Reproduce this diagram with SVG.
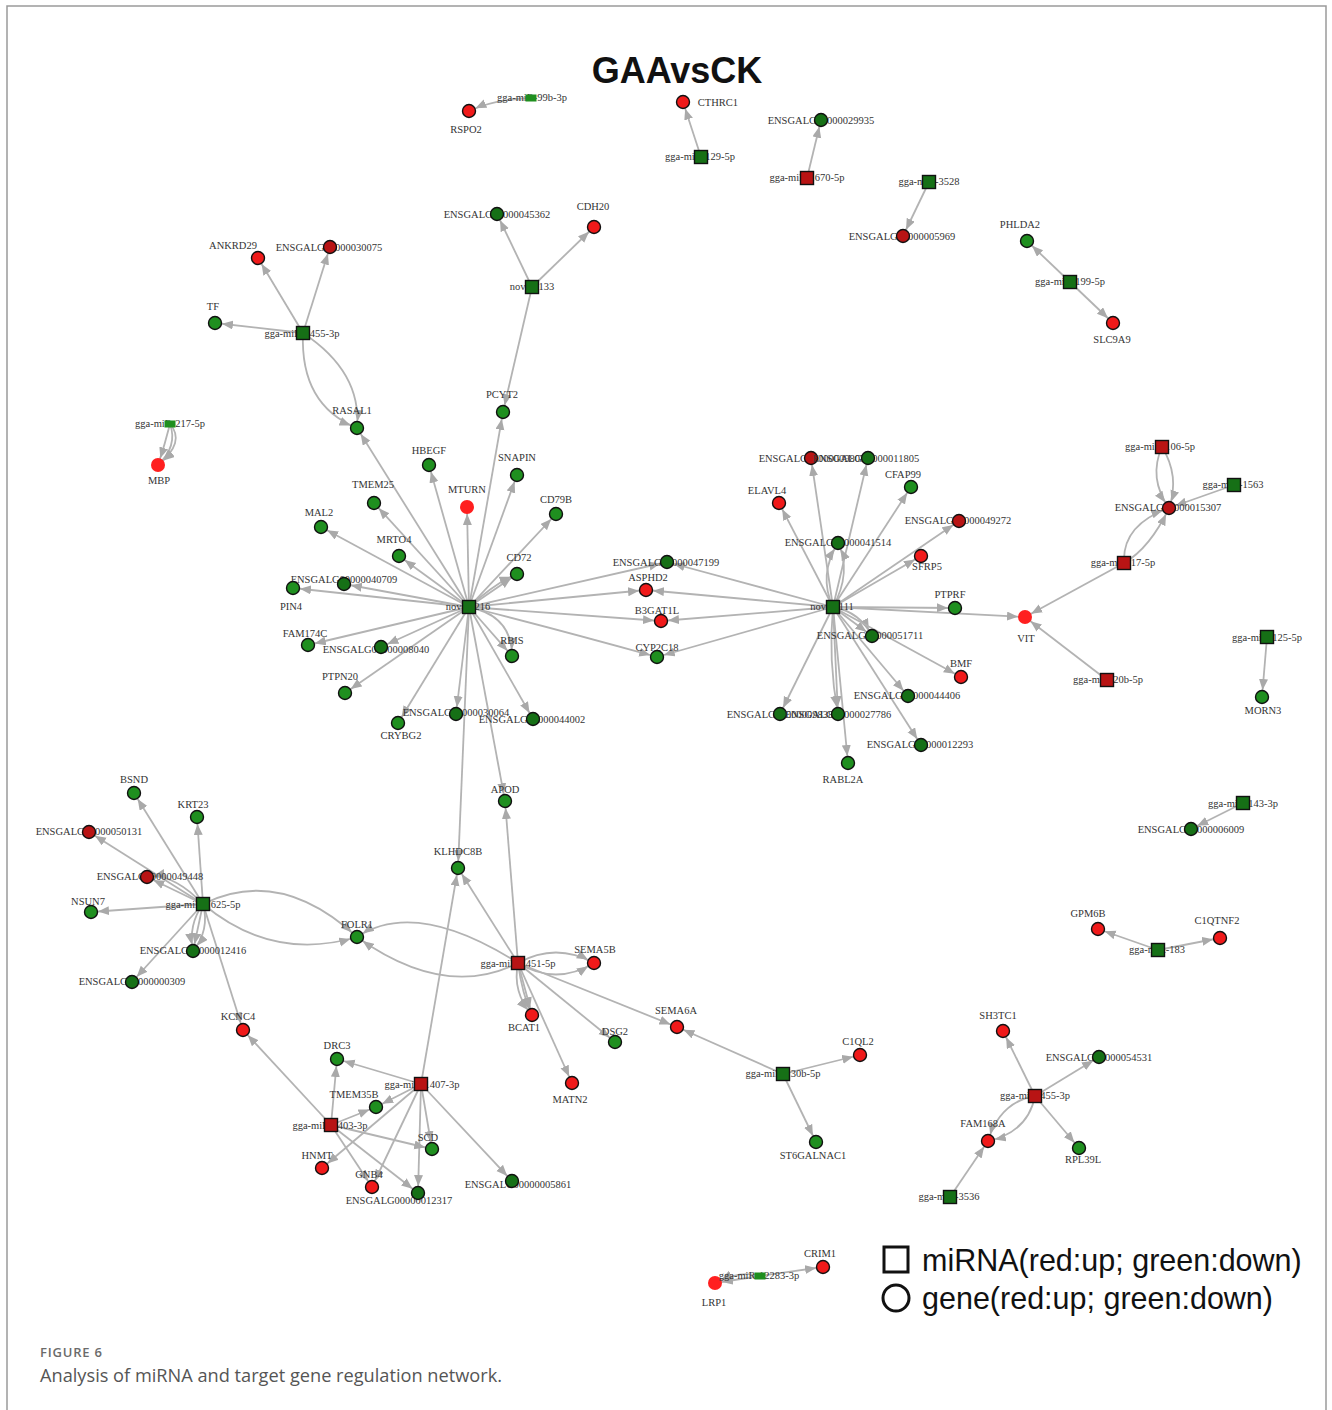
<svg xmlns="http://www.w3.org/2000/svg" width="1332" height="1410" viewBox="0 0 1332 1410">
<defs>
<marker id="ah" markerUnits="userSpaceOnUse" markerWidth="20" markerHeight="10" refX="18" refY="4.5" orient="auto"><path d="M0,0 L11,4.5 L0,9 z" fill="#a9a9a9"/></marker>
<style>
.e{fill:none;stroke:#b3b3b3;stroke-width:1.8;marker-end:url(#ah)}
.g{fill:#1f8f1f;stroke:#111;stroke-width:1.4}
.G{fill:#167016;stroke:#111;stroke-width:1.4}
.r{fill:#f01a1a;stroke:#111;stroke-width:1.4}
.R{fill:#b81414;stroke:#111;stroke-width:1.4}
.n{fill:#ff1f1f;stroke:none}
.s{fill:#1f8f1f;stroke:none}
.t{font-family:"Liberation Serif","Times New Roman",serif;font-size:10.5px;fill:#333;text-anchor:middle}
.lg{font-family:"Liberation Sans",Arial,sans-serif;font-size:30.5px;fill:#111}
</style>
</defs>
<rect width="1332" height="1410" fill="#fff"/>
<path d="M7,1410 V6 H1326 V1410" fill="none" stroke="#9a9a9a" stroke-width="1.5"/>
<text x="677" y="83" font-family="Liberation Sans,Arial,sans-serif" font-size="36" font-weight="bold" text-anchor="middle" fill="#111">GAAvsCK</text>

<g id="edges">
<path class="e" d="M531,98 Q496,99 469,111"/>
<path class="e" d="M701,157 L683,102"/>
<path class="e" d="M807,178 L821,120"/>
<path class="e" d="M929,182 L903,236"/>
<path class="e" d="M1070,282 L1027,241"/>
<path class="e" d="M1070,282 L1113,323"/>
<path class="e" d="M532,287 L497,214"/>
<path class="e" d="M532,287 L594,227"/>
<path class="e" d="M532,287 L503,412"/>
<path class="e" d="M303,333 L258,258"/>
<path class="e" d="M303,333 L330,247"/>
<path class="e" d="M303,333 L215,323"/>
<path class="e" d="M303,333 Q300,405 357,428"/>
<path class="e" d="M303,333 Q362,372 357,428"/>
<path class="e" d="M170,424 Q165,444 158,465"/>
<path class="e" d="M170,424 Q178,446 158,465"/>
<path class="e" d="M170,424 Q186,442 158,465"/>
<path class="e" d="M469,607 L357,428"/>
<path class="e" d="M469,607 L429,465"/>
<path class="e" d="M469,607 L467,507"/>
<path class="e" d="M469,607 L503,412"/>
<path class="e" d="M469,607 L517,475"/>
<path class="e" d="M469,607 L556,514"/>
<path class="e" d="M469,607 L517,574"/>
<path class="e" d="M469,607 Q495,583 517,574"/>
<path class="e" d="M469,607 L374,503"/>
<path class="e" d="M469,607 L321,527"/>
<path class="e" d="M469,607 L399,556"/>
<path class="e" d="M469,607 L344,584"/>
<path class="e" d="M469,607 L293,588"/>
<path class="e" d="M469,607 L308,645"/>
<path class="e" d="M469,607 L381,647"/>
<path class="e" d="M469,607 L345,693"/>
<path class="e" d="M469,607 L398,723"/>
<path class="e" d="M469,607 L456,714"/>
<path class="e" d="M469,607 L533,719"/>
<path class="e" d="M469,607 L512,656"/>
<path class="e" d="M469,607 Q512,616 512,656"/>
<path class="e" d="M469,607 L458,868"/>
<path class="e" d="M469,607 L505,801"/>
<path class="e" d="M469,607 L667,562"/>
<path class="e" d="M469,607 L646,590"/>
<path class="e" d="M469,607 L661,621"/>
<path class="e" d="M469,607 Q560,630 657,657"/>
<path class="e" d="M833,607 L667,562"/>
<path class="e" d="M833,607 L646,590"/>
<path class="e" d="M833,607 L661,621"/>
<path class="e" d="M833,607 L657,657"/>
<path class="e" d="M833,607 L811,458"/>
<path class="e" d="M833,607 L868,458"/>
<path class="e" d="M833,607 L779,503"/>
<path class="e" d="M833,607 L911,487"/>
<path class="e" d="M833,607 L959,521"/>
<path class="e" d="M833,607 Q818,575 838,543"/>
<path class="e" d="M833,607 Q852,572 838,543"/>
<path class="e" d="M833,607 L921,556"/>
<path class="e" d="M833,607 L955,608"/>
<path class="e" d="M833,607 L1025,617"/>
<path class="e" d="M833,607 L872,636"/>
<path class="e" d="M833,607 Q860,612 872,636"/>
<path class="e" d="M833,607 L961,677"/>
<path class="e" d="M833,607 L908,696"/>
<path class="e" d="M833,607 L921,745"/>
<path class="e" d="M833,607 L848,763"/>
<path class="e" d="M833,607 L780,714"/>
<path class="e" d="M833,607 L838,714"/>
<path class="e" d="M833,607 Q828,660 838,714"/>
<path class="e" d="M1162,447 Q1148,478 1169,508"/>
<path class="e" d="M1162,447 Q1180,476 1169,508"/>
<path class="e" d="M1234,485 L1169,508"/>
<path class="e" d="M1124,563 Q1122,525 1169,508"/>
<path class="e" d="M1124,563 Q1150,548 1169,508"/>
<path class="e" d="M1124,563 L1025,617"/>
<path class="e" d="M1107,680 L1025,617"/>
<path class="e" d="M1267,637 L1262,697"/>
<path class="e" d="M203,904 L134,793"/>
<path class="e" d="M203,904 L197,817"/>
<path class="e" d="M203,904 L89,832"/>
<path class="e" d="M203,904 L147,877"/>
<path class="e" d="M203,904 Q172,872 147,877"/>
<path class="e" d="M203,904 L91,912"/>
<path class="e" d="M203,904 L193,951"/>
<path class="e" d="M203,904 Q188,925 193,951"/>
<path class="e" d="M203,904 Q210,930 193,951"/>
<path class="e" d="M203,904 L132,982"/>
<path class="e" d="M203,904 L243,1030"/>
<path class="e" d="M203,904 Q280,866 357,937"/>
<path class="e" d="M203,904 Q272,962 357,937"/>
<path class="e" d="M518,963 Q416,898 357,937"/>
<path class="e" d="M518,963 Q445,1000 357,937"/>
<path class="e" d="M518,963 L458,868"/>
<path class="e" d="M518,963 L505,801"/>
<path class="e" d="M518,963 Q556,942 594,963"/>
<path class="e" d="M518,963 Q556,986 594,963"/>
<path class="e" d="M518,963 Q512,992 532,1015"/>
<path class="e" d="M518,963 Q522,994 532,1015"/>
<path class="e" d="M518,963 L532,1015"/>
<path class="e" d="M518,963 L615,1042"/>
<path class="e" d="M518,963 L572,1083"/>
<path class="e" d="M518,963 L677,1027"/>
<path class="e" d="M421,1084 L337,1059"/>
<path class="e" d="M421,1084 L376,1107"/>
<path class="e" d="M421,1084 L322,1168"/>
<path class="e" d="M421,1084 L372,1187"/>
<path class="e" d="M421,1084 L432,1149"/>
<path class="e" d="M421,1084 L418,1193"/>
<path class="e" d="M421,1084 L512,1181"/>
<path class="e" d="M421,1084 L458,868"/>
<path class="e" d="M331,1125 L243,1030"/>
<path class="e" d="M331,1125 L337,1059"/>
<path class="e" d="M331,1125 L376,1107"/>
<path class="e" d="M331,1125 L432,1149"/>
<path class="e" d="M331,1125 L418,1193"/>
<path class="e" d="M331,1125 L372,1187"/>
<path class="e" d="M783,1074 L677,1027"/>
<path class="e" d="M783,1074 L860,1055"/>
<path class="e" d="M783,1074 L816,1142"/>
<path class="e" d="M1243,803 L1191,829"/>
<path class="e" d="M1158,950 L1098,929"/>
<path class="e" d="M1158,950 L1220,938"/>
<path class="e" d="M1035,1096 L1003,1031"/>
<path class="e" d="M1035,1096 L1099,1057"/>
<path class="e" d="M1035,1096 Q1000,1102 988,1141"/>
<path class="e" d="M1035,1096 Q1028,1132 988,1141"/>
<path class="e" d="M1035,1096 L1079,1148"/>
<path class="e" d="M950,1197 L988,1141"/>
<path class="e" d="M760,1276 Q740,1270 715,1283"/>
<path class="e" d="M760,1276 L715,1283"/>
<path class="e" d="M760,1276 L823,1267"/>
</g>

<g id="RSPO2"><text class="t" x="466" y="133">RSPO2</text><circle class="r" cx="469" cy="111" r="6.5"/></g>
<g id="CTHRC1"><text class="t" x="718" y="106">CTHRC1</text><circle class="r" cx="683" cy="102" r="6.5"/></g>
<g id="E29935"><text class="t" x="821" y="124">ENSGALG00000029935</text><circle class="G" cx="821" cy="120" r="6.5"/></g>
<g id="E05969"><text class="t" x="902" y="240">ENSGALG00000005969</text><circle class="R" cx="903" cy="236" r="6.5"/></g>
<g id="PHLDA2"><text class="t" x="1020" y="228">PHLDA2</text><circle class="g" cx="1027" cy="241" r="6.5"/></g>
<g id="SLC9A9"><text class="t" x="1112" y="343">SLC9A9</text><circle class="r" cx="1113" cy="323" r="6.5"/></g>
<g id="E45362"><text class="t" x="497" y="218">ENSGALG00000045362</text><circle class="G" cx="497" cy="214" r="6.5"/></g>
<g id="CDH20"><text class="t" x="593" y="210">CDH20</text><circle class="r" cx="594" cy="227" r="6.5"/></g>
<g id="ANKRD29"><text class="t" x="233" y="249">ANKRD29</text><circle class="r" cx="258" cy="258" r="6.5"/></g>
<g id="E30075"><text class="t" x="329" y="251">ENSGALG00000030075</text><circle class="R" cx="330" cy="247" r="6.5"/></g>
<g id="TF"><text class="t" x="213" y="310">TF</text><circle class="g" cx="215" cy="323" r="6.5"/></g>
<g id="RASAL1"><text class="t" x="352" y="414">RASAL1</text><circle class="g" cx="357" cy="428" r="6.5"/></g>
<g id="MBP"><text class="t" x="159" y="484">MBP</text><circle class="n" cx="158" cy="465" r="7"/></g>
<g id="PCYT2"><text class="t" x="502" y="398">PCYT2</text><circle class="g" cx="503" cy="412" r="6.5"/></g>
<g id="HBEGF"><text class="t" x="429" y="454">HBEGF</text><circle class="g" cx="429" cy="465" r="6.5"/></g>
<g id="SNAPIN"><text class="t" x="517" y="461">SNAPIN</text><circle class="g" cx="517" cy="475" r="6.5"/></g>
<g id="TMEM25"><text class="t" x="373" y="488">TMEM25</text><circle class="g" cx="374" cy="503" r="6.5"/></g>
<g id="MTURN"><text class="t" x="467" y="493">MTURN</text><circle class="n" cx="467" cy="507" r="7"/></g>
<g id="CD79B"><text class="t" x="556" y="503">CD79B</text><circle class="g" cx="556" cy="514" r="6.5"/></g>
<g id="MAL2"><text class="t" x="319" y="516">MAL2</text><circle class="g" cx="321" cy="527" r="6.5"/></g>
<g id="MRTO4"><text class="t" x="394" y="543">MRTO4</text><circle class="g" cx="399" cy="556" r="6.5"/></g>
<g id="CD72"><text class="t" x="519" y="561">CD72</text><circle class="g" cx="517" cy="574" r="6.5"/></g>
<g id="E40709"><text class="t" x="344" y="583">ENSGALG00000040709</text><circle class="G" cx="344" cy="584" r="6.5"/></g>
<g id="PIN4"><text class="t" x="291" y="610">PIN4</text><circle class="g" cx="293" cy="588" r="6.5"/></g>
<g id="FAM174C"><text class="t" x="305" y="637">FAM174C</text><circle class="g" cx="308" cy="645" r="6.5"/></g>
<g id="E08040"><text class="t" x="376" y="653">ENSGALG00000008040</text><circle class="G" cx="381" cy="647" r="6.5"/></g>
<g id="RBIS"><text class="t" x="512" y="644">RBIS</text><circle class="g" cx="512" cy="656" r="6.5"/></g>
<g id="PTPN20"><text class="t" x="340" y="680">PTPN20</text><circle class="g" cx="345" cy="693" r="6.5"/></g>
<g id="CRYBG2"><text class="t" x="401" y="739">CRYBG2</text><circle class="g" cx="398" cy="723" r="6.5"/></g>
<g id="E30064"><text class="t" x="456" y="716">ENSGALG00000030064</text><circle class="G" cx="456" cy="714" r="6.5"/></g>
<g id="E44002"><text class="t" x="532" y="723">ENSGALG00000044002</text><circle class="G" cx="533" cy="719" r="6.5"/></g>
<g id="E47199"><text class="t" x="666" y="566">ENSGALG00000047199</text><circle class="G" cx="667" cy="562" r="6.5"/></g>
<g id="ASPHD2"><text class="t" x="648" y="581">ASPHD2</text><circle class="r" cx="646" cy="590" r="6.5"/></g>
<g id="B3GAT1L"><text class="t" x="657" y="614">B3GAT1L</text><circle class="r" cx="661" cy="621" r="6.5"/></g>
<g id="CYP2C18"><text class="t" x="657" y="651">CYP2C18</text><circle class="g" cx="657" cy="657" r="6.5"/></g>
<g id="E09807"><text class="t" x="812" y="462">ENSGALG00000009807</text><circle class="R" cx="811" cy="458" r="6.5"/></g>
<g id="E11805"><text class="t" x="866" y="462">ENSGALG00000011805</text><circle class="G" cx="868" cy="458" r="6.5"/></g>
<g id="CFAP99"><text class="t" x="903" y="478">CFAP99</text><circle class="g" cx="911" cy="487" r="6.5"/></g>
<g id="ELAVL4"><text class="t" x="767" y="494">ELAVL4</text><circle class="r" cx="779" cy="503" r="6.5"/></g>
<g id="E49272"><text class="t" x="958" y="524">ENSGALG00000049272</text><circle class="R" cx="959" cy="521" r="6.5"/></g>
<g id="E41514"><text class="t" x="838" y="546">ENSGALG00000041514</text><circle class="G" cx="838" cy="543" r="6.5"/></g>
<g id="SFRP5"><text class="t" x="927" y="570">SFRP5</text><circle class="r" cx="921" cy="556" r="6.5"/></g>
<g id="PTPRF"><text class="t" x="950" y="598">PTPRF</text><circle class="g" cx="955" cy="608" r="6.5"/></g>
<g id="VIT"><text class="t" x="1026" y="642">VIT</text><circle class="n" cx="1025" cy="617" r="7"/></g>
<g id="E51711"><text class="t" x="870" y="639">ENSGALG00000051711</text><circle class="G" cx="872" cy="636" r="6.5"/></g>
<g id="BMF"><text class="t" x="961" y="667">BMF</text><circle class="r" cx="961" cy="677" r="6.5"/></g>
<g id="E44406"><text class="t" x="907" y="699">ENSGALG00000044406</text><circle class="G" cx="908" cy="696" r="6.5"/></g>
<g id="E09838"><text class="t" x="780" y="718">ENSGALG00000009838</text><circle class="G" cx="780" cy="714" r="6.5"/></g>
<g id="E27786"><text class="t" x="838" y="718">ENSGALG00000027786</text><circle class="G" cx="838" cy="714" r="6.5"/></g>
<g id="E12293"><text class="t" x="920" y="748">ENSGALG00000012293</text><circle class="G" cx="921" cy="745" r="6.5"/></g>
<g id="RABL2A"><text class="t" x="843" y="783">RABL2A</text><circle class="g" cx="848" cy="763" r="6.5"/></g>
<g id="E15307"><text class="t" x="1168" y="511">ENSGALG00000015307</text><circle class="R" cx="1169" cy="508" r="6.5"/></g>
<g id="MORN3"><text class="t" x="1263" y="714">MORN3</text><circle class="g" cx="1262" cy="697" r="6.5"/></g>
<g id="BSND"><text class="t" x="134" y="783">BSND</text><circle class="g" cx="134" cy="793" r="6.5"/></g>
<g id="KRT23"><text class="t" x="193" y="808">KRT23</text><circle class="g" cx="197" cy="817" r="6.5"/></g>
<g id="E50131"><text class="t" x="89" y="835">ENSGALG00000050131</text><circle class="R" cx="89" cy="832" r="6.5"/></g>
<g id="E49448"><text class="t" x="150" y="880">ENSGALG00000049448</text><circle class="R" cx="147" cy="877" r="6.5"/></g>
<g id="NSUN7"><text class="t" x="88" y="905">NSUN7</text><circle class="g" cx="91" cy="912" r="6.5"/></g>
<g id="FOLR1"><text class="t" x="357" y="928">FOLR1</text><circle class="g" cx="357" cy="937" r="6.5"/></g>
<g id="E12416"><text class="t" x="193" y="954">ENSGALG00000012416</text><circle class="G" cx="193" cy="951" r="6.5"/></g>
<g id="E00309"><text class="t" x="132" y="985">ENSGALG00000000309</text><circle class="G" cx="132" cy="982" r="6.5"/></g>
<g id="KCNC4"><text class="t" x="238" y="1020">KCNC4</text><circle class="r" cx="243" cy="1030" r="6.5"/></g>
<g id="KLHDC8B"><text class="t" x="458" y="855">KLHDC8B</text><circle class="g" cx="458" cy="868" r="6.5"/></g>
<g id="APOD"><text class="t" x="505" y="793">APOD</text><circle class="g" cx="505" cy="801" r="6.5"/></g>
<g id="SEMA5B"><text class="t" x="595" y="953">SEMA5B</text><circle class="r" cx="594" cy="963" r="6.5"/></g>
<g id="BCAT1"><text class="t" x="524" y="1031">BCAT1</text><circle class="r" cx="532" cy="1015" r="6.5"/></g>
<g id="DSG2"><text class="t" x="615" y="1035">DSG2</text><circle class="g" cx="615" cy="1042" r="6.5"/></g>
<g id="MATN2"><text class="t" x="570" y="1103">MATN2</text><circle class="r" cx="572" cy="1083" r="6.5"/></g>
<g id="SEMA6A"><text class="t" x="676" y="1014">SEMA6A</text><circle class="r" cx="677" cy="1027" r="6.5"/></g>
<g id="DRC3"><text class="t" x="337" y="1049">DRC3</text><circle class="g" cx="337" cy="1059" r="6.5"/></g>
<g id="TMEM35B"><text class="t" x="354" y="1098">TMEM35B</text><circle class="g" cx="376" cy="1107" r="6.5"/></g>
<g id="SCD"><text class="t" x="428" y="1141">SCD</text><circle class="g" cx="432" cy="1149" r="6.5"/></g>
<g id="HNMT"><text class="t" x="317" y="1159">HNMT</text><circle class="r" cx="322" cy="1168" r="6.5"/></g>
<g id="GNB4"><text class="t" x="369" y="1178">GNB4</text><circle class="r" cx="372" cy="1187" r="6.5"/></g>
<g id="E12317"><text class="t" x="399" y="1204">ENSGALG00000012317</text><circle class="G" cx="418" cy="1193" r="6.5"/></g>
<g id="E05861"><text class="t" x="518" y="1188">ENSGALG00000005861</text><circle class="G" cx="512" cy="1181" r="6.5"/></g>
<g id="C1QL2"><text class="t" x="858" y="1045">C1QL2</text><circle class="r" cx="860" cy="1055" r="6.5"/></g>
<g id="ST6GALNAC1"><text class="t" x="813" y="1159">ST6GALNAC1</text><circle class="g" cx="816" cy="1142" r="6.5"/></g>
<g id="E06009"><text class="t" x="1191" y="833">ENSGALG00000006009</text><circle class="G" cx="1191" cy="829" r="6.5"/></g>
<g id="GPM6B"><text class="t" x="1088" y="917">GPM6B</text><circle class="r" cx="1098" cy="929" r="6.5"/></g>
<g id="C1QTNF2"><text class="t" x="1217" y="924">C1QTNF2</text><circle class="r" cx="1220" cy="938" r="6.5"/></g>
<g id="SH3TC1"><text class="t" x="998" y="1019">SH3TC1</text><circle class="r" cx="1003" cy="1031" r="6.5"/></g>
<g id="E54531"><text class="t" x="1099" y="1061">ENSGALG00000054531</text><circle class="G" cx="1099" cy="1057" r="6.5"/></g>
<g id="FAM168A"><text class="t" x="983" y="1127">FAM168A</text><circle class="r" cx="988" cy="1141" r="6.5"/></g>
<g id="RPL39L"><text class="t" x="1083" y="1163">RPL39L</text><circle class="g" cx="1079" cy="1148" r="6.5"/></g>
<g id="LRP1"><text class="t" x="714" y="1306">LRP1</text><circle class="n" cx="715" cy="1283" r="7"/></g>
<g id="CRIM1"><text class="t" x="820" y="1257">CRIM1</text><circle class="r" cx="823" cy="1267" r="6.5"/></g>

<g id="m99b"><text class="t" x="532" y="101">gga-miR-99b-3p</text><rect class="s" x="525.5" y="94.5" width="11" height="7"/></g>
<g id="m129"><text class="t" x="700" y="160">gga-miR-129-5p</text><rect class="G" x="694.5" y="150.5" width="13" height="13"/></g>
<g id="m1670"><text class="t" x="807" y="181">gga-miR-1670-5p</text><rect class="R" x="800.5" y="171.5" width="13" height="13"/></g>
<g id="m3528"><text class="t" x="929" y="185">gga-miR-3528</text><rect class="G" x="922.5" y="175.5" width="13" height="13"/></g>
<g id="m199"><text class="t" x="1070" y="285">gga-miR-199-5p</text><rect class="G" x="1063.5" y="275.5" width="13" height="13"/></g>
<g id="novel_133"><text class="t" x="532" y="290">novel_133</text><rect class="G" x="525.5" y="280.5" width="13" height="13"/></g>
<g id="m1455"><text class="t" x="302" y="337">gga-miR-1455-3p</text><rect class="G" x="296.5" y="326.5" width="13" height="13"/></g>
<g id="m217"><text class="t" x="170" y="427">gga-miR-217-5p</text><rect class="s" x="164.5" y="420.5" width="11" height="7"/></g>
<g id="novel_216"><text class="t" x="468" y="610">novel_216</text><rect class="G" x="462.5" y="600.5" width="13" height="13"/></g>
<g id="novel_111"><text class="t" x="832" y="610">novel_111</text><rect class="G" x="826.5" y="600.5" width="13" height="13"/></g>
<g id="m106"><text class="t" x="1160" y="450">gga-miR-106-5p</text><rect class="R" x="1155.5" y="440.5" width="13" height="13"/></g>
<g id="m1563"><text class="t" x="1233" y="488">gga-miR-1563</text><rect class="G" x="1227.5" y="478.5" width="13" height="13"/></g>
<g id="m17"><text class="t" x="1123" y="566">gga-miR-17-5p</text><rect class="R" x="1117.5" y="556.5" width="13" height="13"/></g>
<g id="m20b"><text class="t" x="1108" y="683">gga-miR-20b-5p</text><rect class="R" x="1100.5" y="673.5" width="13" height="13"/></g>
<g id="m125"><text class="t" x="1267" y="641">gga-miR-125-5p</text><rect class="G" x="1260.5" y="630.5" width="13" height="13"/></g>
<g id="m1625"><text class="t" x="203" y="908">gga-miR-1625-5p</text><rect class="G" x="196.5" y="897.5" width="13" height="13"/></g>
<g id="m1451"><text class="t" x="518" y="967">gga-miR-1451-5p</text><rect class="R" x="511.5" y="956.5" width="13" height="13"/></g>
<g id="m1407"><text class="t" x="422" y="1088">gga-miR-1407-3p</text><rect class="R" x="414.5" y="1077.5" width="13" height="13"/></g>
<g id="m1403"><text class="t" x="330" y="1129">gga-miR-1403-3p</text><rect class="R" x="324.5" y="1118.5" width="13" height="13"/></g>
<g id="m130b"><text class="t" x="783" y="1077">gga-miR-130b-5p</text><rect class="G" x="776.5" y="1067.5" width="13" height="13"/></g>
<g id="m143"><text class="t" x="1243" y="807">gga-miR-143-3p</text><rect class="G" x="1236.5" y="796.5" width="13" height="13"/></g>
<g id="m183"><text class="t" x="1157" y="953">gga-miR-183</text><rect class="G" x="1151.5" y="943.5" width="13" height="13"/></g>
<g id="m455"><text class="t" x="1035" y="1099">gga-miR-455-3p</text><rect class="R" x="1028.5" y="1089.5" width="13" height="13"/></g>
<g id="m3536"><text class="t" x="949" y="1200">gga-miR-3536</text><rect class="G" x="943.5" y="1190.5" width="13" height="13"/></g>
<g id="m12283"><text class="t" x="759" y="1279">gga-miR-12283-3p</text><rect class="s" x="754.5" y="1272.5" width="11" height="7"/></g>

<g id="legend">
<rect x="884" y="1247" width="24" height="25" fill="none" stroke="#111" stroke-width="3"/>
<text class="lg" x="922" y="1271">miRNA(red:up; green:down)</text>
<circle cx="896" cy="1298" r="13" fill="none" stroke="#111" stroke-width="3"/>
<text class="lg" x="922" y="1309">gene(red:up; green:down)</text>
</g>
<g id="caption">
<text x="40" y="1357" font-family="Open Sans,Liberation Sans,sans-serif" font-size="13" font-weight="600" letter-spacing="0.8" fill="#6b6b6b">FIGURE 6</text>
<text x="40" y="1382" font-family="Open Sans,Liberation Sans,sans-serif" font-size="18.2" fill="#555">Analysis of miRNA and target gene regulation network.</text>
</g>
</svg>
